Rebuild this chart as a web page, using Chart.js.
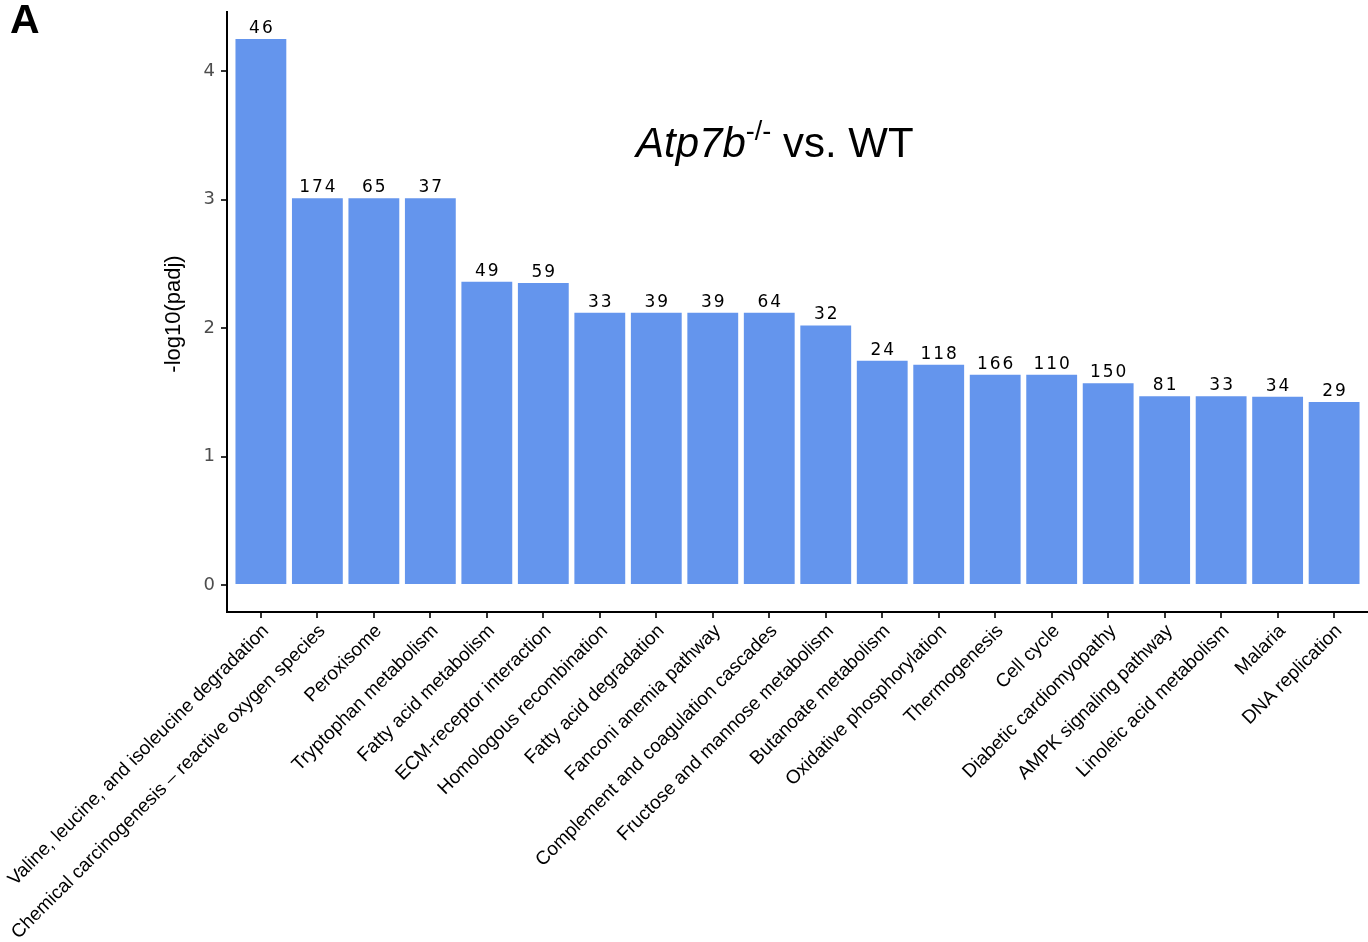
<!DOCTYPE html>
<html>
<head>
<meta charset="utf-8">
<script src="https://cdn.jsdelivr.net/npm/chart.js@4/dist/chart.umd.min.js"></script>
<style>
    html, body { margin: 0; padding: 0; background: #fff; }
    #wrap { position: relative; width: 1368px; height: 942px; }
</style>
</head>
<body>
<div id="wrap"><canvas id="keggChart" width="1368" height="942"></canvas></div>
<script>
// KEGG pathways, Atp7b-/- vs WT
const pathways = [
    'Valine, leucine, and isoleucine degradation',
    'Chemical carcinogenesis \u2013 reactive oxygen species',
    'Peroxisome',
    'Tryptophan metabolism',
    'Fatty acid metabolism',
    'ECM-receptor interaction',
    'Homologous recombination',
    'Fatty acid degradation',
    'Fanconi anemia pathway',
    'Complement and coagulation cascades',
    'Fructose and mannose metabolism',
    'Butanoate metabolism',
    'Oxidative phosphorylation',
    'Thermogenesis',
    'Cell cycle',
    'Diabetic cardiomyopathy',
    'AMPK signaling pathway',
    'Linoleic acid metabolism',
    'Malaria',
    'DNA replication'
];
const negLogPadj = [4.25, 3.01, 3.01, 3.01, 2.36, 2.35, 2.12, 2.12, 2.12, 2.12,
                    2.02, 1.745, 1.715, 1.637, 1.637, 1.57, 1.47, 1.47, 1.465, 1.425];
const geneCounts = [46, 174, 65, 37, 49, 59, 33, 39, 39, 64,
                    32, 24, 118, 166, 110, 150, 81, 33, 34, 29];
const yTickValues = [0, 1, 2, 3, 4];

const barColor = '#6495ED';

// counts above each bar + title, panel letter, y-axis title
const annotations = {
    id: 'annotations',
    afterDatasetsDraw(chart) {
        const ctx = chart.ctx;
        const meta = chart.getDatasetMeta(0);
        ctx.save();
        ctx.fillStyle = '#000';
        ctx.font = '17px "DejaVu Sans"';
        ctx.letterSpacing = '2px';
        ctx.textAlign = 'center';
        ctx.textBaseline = 'alphabetic';
        meta.data.forEach((bar, i) => {
            ctx.fillText(String(geneCounts[i]), bar.x + 1, bar.y - 6);
        });
        ctx.restore();
    },
    afterDraw(chart) {
        const ctx = chart.ctx;
        ctx.save();
        ctx.fillStyle = '#000';
        ctx.textBaseline = 'alphabetic';
        ctx.textAlign = 'left';

        // panel letter
        ctx.font = 'bold 41px "Liberation Sans"';
        ctx.fillText('A', 10, 33);

        // title: Atp7b-/- vs. WT
        let x = 636;
        ctx.font = 'italic 42px "Liberation Sans"';
        ctx.fillText('Atp7b', x, 157);
        x += ctx.measureText('Atp7b').width;
        ctx.font = '27px "Liberation Sans"';
        ctx.fillText('-/-', x, 140);
        x += ctx.measureText('-/-').width;
        ctx.font = '42px "Liberation Sans"';
        ctx.fillText(' vs. WT', x, 157);

        // y axis title
        ctx.translate(180, 314);
        ctx.rotate(-Math.PI / 2);
        ctx.textAlign = 'center';
        ctx.font = '22px "Liberation Sans"';
        ctx.fillText('-log10(padj)', 0, 0);
        ctx.restore();
    }
};

const ctx = document.getElementById('keggChart').getContext('2d');
new Chart(ctx, {
    type: 'bar',
    data: {
        datasets: [{
            data: negLogPadj.map((v, i) => ({ x: i, y: v })),
            backgroundColor: barColor,
            borderWidth: 0,
            categoryPercentage: 1,
            barPercentage: 0.9
        }]
    },
    options: {
        responsive: false,
        animation: false,
        layout: { padding: { top: 12, right: 0, left: 0, bottom: 0 } },
        plugins: {
            legend: { display: false },
            tooltip: { enabled: false }
        },
        scales: {
            x: {
                type: 'linear',
                offset: false,
                min: -0.6,
                max: pathways.length - 0.4,
                afterBuildTicks: (scale) => {
                    scale.ticks = pathways.map((_, i) => ({ value: i }));
                },
                afterFit: (scale) => {
                    scale.height = 330;
                    scale.paddingLeft = 0;
                    scale.paddingRight = 0;
                },
                border: { display: true, color: '#000', width: 2 },
                grid: { display: true, offset: false, drawOnChartArea: false, drawTicks: true, tickLength: 6, color: '#333', lineWidth: 2 },
                ticks: {
                    autoSkip: false,
                    minRotation: 45,
                    maxRotation: 45,
                    padding: 2,
                    labelOffset: 5,
                    color: '#000',
                    font: { family: 'Liberation Sans', size: 19 },
                    callback: (v) => pathways[v]
                }
            },
            y: {
                min: -0.21,
                max: 4.46,
                afterBuildTicks: (scale) => {
                    scale.ticks = yTickValues.map(v => ({ value: v }));
                },
                afterFit: (scale) => {
                    scale.width = 227;
                    scale.paddingTop = 0;
                    scale.paddingBottom = 0;
                },
                border: { display: true, color: '#000', width: 2 },
                grid: { display: true, drawOnChartArea: false, drawTicks: true, tickLength: 6, color: '#333', lineWidth: 2 },
                ticks: {
                    padding: 6,
                    color: '#4d4d4d',
                    font: { family: 'DejaVu Sans', size: 18 }
                }
            }
        }
    },
    plugins: [annotations]
});
</script>
</body>
</html>
